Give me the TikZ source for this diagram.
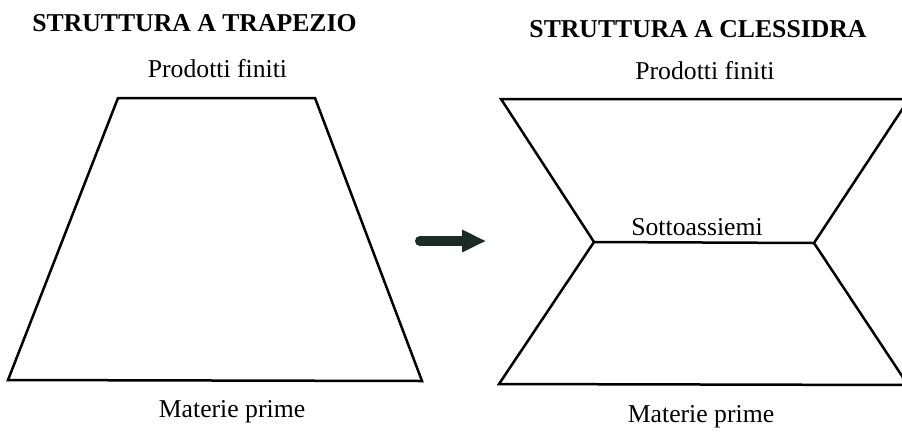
\documentclass[tikz,border=0pt]{standalone}
\usepackage{fontspec}
\setmainfont{Liberation Serif}
\usetikzlibrary{arrows.meta}
\definecolor{arrowcol}{HTML}{1C2B26}
\tikzset{
  outline/.style={draw=black, line width=2.5pt, line join=miter},
  lbl/.style={anchor=base, inner sep=0pt, font=\fontsize{25.7}{30}\selectfont},
  ttl/.style={anchor=base, inner sep=0pt, font=\fontsize{25.7}{30}\selectfont\bfseries},
  bigarrow/.style={draw=arrowcol, line width=10pt, line cap=round, -{Triangle[length=24pt,width=21pt]}}
}
\begin{document}
\begin{tikzpicture}[x=1pt,y=-1pt]
\useasboundingbox (0,0) rectangle (902,432);
\clip (0,0) rectangle (902,432);
% titles
\node[ttl] (t1) at (194.5,31) {STRUTTURA A TRAPEZIO};
\node[ttl] (t2) at (698,37) {STRUTTURA A CLESSIDRA};
% trapezio
\coordinate (tA) at (118,98);
\coordinate (tB) at (315,98);
\coordinate (tC) at (422,381);
\coordinate (tD) at (8,380);
\draw[outline] (tA) -- (tB) -- (tC) -- (tD) -- cycle;
\node[lbl] (pf1) at (217.5,77) {Prodotti finiti};
\node[lbl] (mp1) at (232,417) {Materie prime};
% arrow
\coordinate (a1) at (420,241);
\coordinate (a2) at (486,241);
\draw[bigarrow] (a1) -- (a2);
% clessidra
\coordinate (cA) at (501,99);
\coordinate (cB) at (909,99);
\coordinate (cML) at (594,242);
\coordinate (cMR) at (814,243);
\coordinate (cC) at (908,385);
\coordinate (cD) at (499,384);
\draw[outline] (cA) -- (cB) -- (cMR) -- (cC) -- (cD) -- (cML) -- cycle;
\draw[outline] (cML) -- (cMR);
\node[lbl] (pf2) at (705,79) {Prodotti finiti};
\node[lbl] (so) at (697,235) {Sottoassiemi};
\node[lbl] (mp2) at (701,422) {Materie prime};
\end{tikzpicture}
\end{document}
